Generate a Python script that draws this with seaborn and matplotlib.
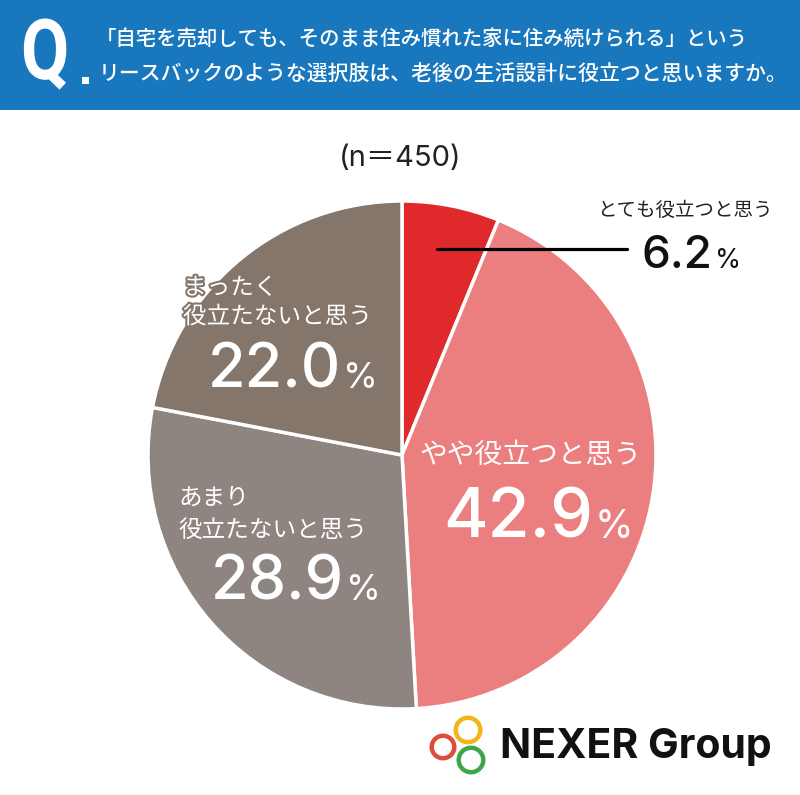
import matplotlib
matplotlib.use('Agg')
import matplotlib.pyplot as plt
import matplotlib.patheffects as pe
import matplotlib.transforms as mtransforms
import seaborn as sns
from matplotlib.patches import Rectangle, Circle, PathPatch
from matplotlib.textpath import TextPath
from matplotlib.font_manager import FontProperties

# data
categories = ["とても役立つと思う", "やや役立つと思う", "あまり\n役立たないと思う", "まったく\n役立たないと思う"]
values = [6.2, 42.9, 28.9, 22.0]
colors = ["#e0292a", "#eb7e7e", "#8f8580", "#85766b"]
n_total = 450
title_lines = ["「自宅を売却しても、そのまま住み慣れた家に住み続けられる」という",
               "リースバックのような選択肢は、老後の生活設計に役立つと思いますか。"]

W, H = 800, 795
sns.set_theme(style="white")
plt.rcParams['font.family'] = ['Noto Sans CJK JP', 'DejaVu Sans']
NUM_FONT = ['Inter', 'Noto Sans CJK JP']

fig = plt.figure(figsize=(W / 100, H / 100), dpi=100)
fig.patch.set_facecolor("white")


def px(x, y):
    return x / W, 1 - y / H


# header band
fig.patches.append(Rectangle((0, 1 - 110 / H), 1, 110 / H, transform=fig.transFigure,
                             facecolor="#1977bd", edgecolor="none", zorder=0))
# narrow "Q" drawn as a squeezed text path
q_path = TextPath((0, 0), "Q", size=1, prop=FontProperties(family="Roboto", weight="bold"))
q_tr = mtransforms.Affine2D().scale(70 / W, 84 / H).translate(21 / W, 1 - 79 / H) + fig.transFigure
fig.patches.append(PathPatch(q_path, facecolor="white", edgecolor="none", transform=q_tr))
fig.patches.append(Rectangle(px(82, 84), 7 / W, 7 / H, transform=fig.transFigure,
                             facecolor="white", edgecolor="none"))
fig.text(*px(96, 39), title_lines[0], color="white", fontsize=14.7, fontweight="medium",
         ha="left", va="center")
fig.text(*px(99, 75), title_lines[1], color="white", fontsize=15, fontweight="medium",
         ha="left", va="center")

fig.text(*px(400, 159), f"(n＝{n_total})", color="#222222", fontsize=21,
         ha="center", va="center", family=NUM_FONT)

# pie
cx, cy, r = 402, 455, 254
ax = fig.add_axes([(cx - r) / W, (H - cy - r) / H, 2 * r / W, 2 * r / H])
ax.pie(values, colors=colors, startangle=90, counterclock=False,
       wedgeprops=dict(edgecolor="white", linewidth=2.5))
ax.set_xlim(-1, 1)
ax.set_ylim(-1, 1)
ax.set_aspect("equal")
ax.axis("off")

renderer = fig.canvas.get_renderer()


def pct_label(x_left, y_base, value, size, color):
    t1 = fig.text(*px(x_left, y_base), f"{value:.1f}", fontsize=size, color=color,
                  ha="left", va="baseline", family=NUM_FONT, fontweight="medium")
    bb = t1.get_window_extent(renderer)
    fig.text(bb.x1 / W + 2 / W, 1 - y_base / H, "%", fontsize=size * 0.58, color=color,
             ha="left", va="baseline", family=NUM_FONT)


# とても役立つと思う (outside label with leader line)
fig.text(*px(597, 210), categories[0], fontsize=14, color="#222222", ha="left", va="center")
fig.add_artist(plt.Line2D([437 / W, 627 / W], [1 - 249 / H, 1 - 249 / H],
                          color="black", linewidth=2.3, transform=fig.transFigure))
pct_label(642, 268, values[0], 33, "#111111")

# やや役立つと思う
fig.text(*px(530, 455), categories[1], fontsize=20, color="white", ha="center", va="center")
pct_label(443, 538, values[1], 49, "white")

# あまり
fig.text(*px(178, 498), "あまり", fontsize=17, color="white", ha="left", va="center")
fig.text(*px(178, 530), "役立たないと思う", fontsize=17, color="white", ha="left", va="center")
pct_label(211, 600, values[2], 44, "white")

# まったく (outlined where it runs past the pie edge)
outline = [pe.withStroke(linewidth=3, foreground=colors[3])]
fig.text(*px(183, 288), "まったく", fontsize=17, color="white", ha="left", va="center",
         path_effects=outline)
fig.text(*px(183, 317), "役立たないと思う", fontsize=17, color="white", ha="left", va="center",
         path_effects=outline)
pct_label(208, 388, values[3], 44, "white")

# logo
for (lx, ly, lr, lc) in [(443, 747, 11.3, "#e04b3a"), (468, 730, 12.3, "#f2b61b"),
                         (471, 760, 12.3, "#3ea64a")]:
    fig.patches.append(Circle(px(lx, ly), lr / W, transform=fig.transFigure,
                              facecolor="none", edgecolor=lc, linewidth=3.2))
fig.text(*px(500, 747), "NEXER Group", fontsize=29.5, fontweight="bold", color="#111111",
         ha="left", va="center", family=["Inter", "DejaVu Sans"])

fig.savefig("out.png", dpi=100, facecolor="white")
